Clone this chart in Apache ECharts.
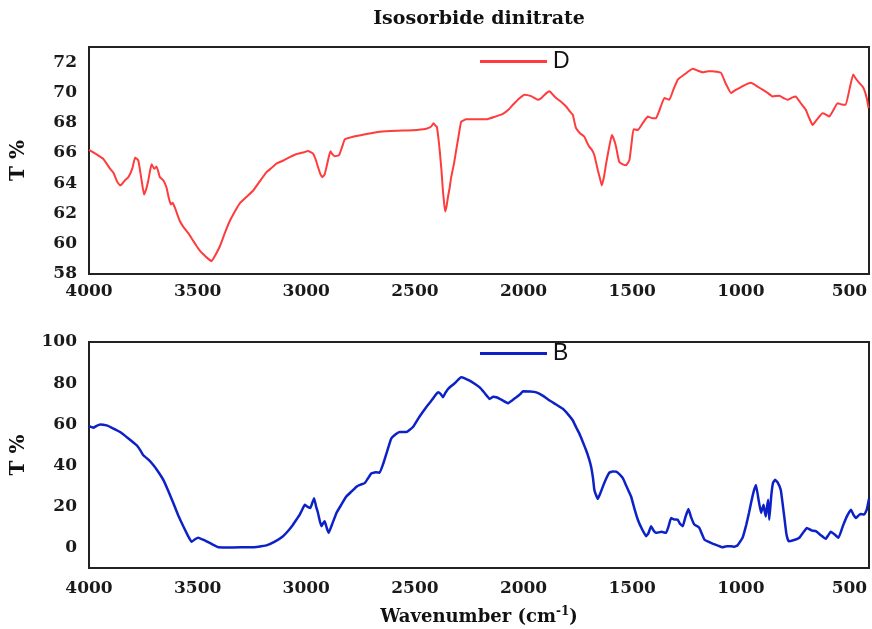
<!DOCTYPE html>
<html>
<head>
<meta charset="utf-8">
<script src="https://cdn.jsdelivr.net/npm/echarts@6/dist/echarts.min.js"></script>
<style>html,body{margin:0;padding:0;background:#fff;}#c{width:872px;height:629px;}</style>
</head>
<body>
<div id="c"></div>
<script>
const titleText = 'Isosorbide dinitrate';
const xTicks = [4000, 3500, 3000, 2500, 2000, 1500, 1000, 500];
const yTicksD = [58, 60, 62, 64, 66, 68, 70, 72];
const yTicksB = [0, 20, 40, 60, 80, 100];

// Sample D: [wavenumber, T%]
const seriesD = [
  [4000,66.2],[3965,65.9],[3934,65.6],[3905,65.0],[3888,64.7],[3870,64.1],[3857,63.85],[3845,64.0],[3834,64.2],[3819,64.4],
  [3800,65.0],[3788,65.7],[3773,65.5],[3758,64.2],[3747,63.25],[3737,63.6],[3727,64.2],[3718,64.9],[3712,65.25],[3700,64.95],
  [3689,65.1],[3680,64.7],[3674,64.4],[3658,64.2],[3643,63.7],[3634,63.1],[3624,62.6],[3615,62.7],[3605,62.4],[3595,62.0],
  [3582,61.5],[3565,61.1],[3543,60.7],[3525,60.3],[3505,59.85],[3490,59.55],[3474,59.3],[3455,59.05],[3436,58.85],[3420,59.2],
  [3397,59.85],[3375,60.7],[3352,61.5],[3330,62.1],[3306,62.67],[3275,63.1],[3245,63.5],[3215,64.1],[3183,64.73],[3160,65.0],
  [3137,65.3],[3105,65.5],[3076,65.73],[3050,65.9],[3010,66.05],[2992,66.13],[2969,65.96],[2955,65.5],[2946,65.07],[2935,64.6],
  [2926,64.4],[2915,64.6],[2907,65.07],[2897,65.7],[2889,66.11],[2879,65.9],[2869,65.78],[2849,65.85],[2835,66.4],[2823,66.89],
  [2785,67.07],[2723,67.25],[2662,67.4],[2585,67.47],[2509,67.5],[2448,67.6],[2425,67.75],[2414,67.96],[2405,67.8],[2399,67.73],
  [2392,67.0],[2386,66.18],[2378,64.9],[2371,63.5],[2365,62.6],[2360,62.13],[2354,62.5],[2348,63.07],[2340,63.7],[2333,64.4],
  [2320,65.3],[2310,66.18],[2298,67.2],[2287,68.07],[2264,68.22],[2220,68.22],[2172,68.22],[2130,68.4],[2095,68.58],[2070,68.85],
  [2049,69.18],[2020,69.6],[1995,69.85],[1965,69.75],[1934,69.51],[1920,69.6],[1911,69.73],[1895,69.95],[1880,70.07],[1865,69.85],
  [1850,69.63],[1825,69.35],[1804,69.07],[1790,68.8],[1773,68.51],[1765,68.0],[1758,67.63],[1740,67.3],[1720,67.07],[1708,66.7],
  [1697,66.4],[1685,66.2],[1674,65.85],[1665,65.3],[1658,64.85],[1648,64.3],[1640,63.85],[1630,64.4],[1620,65.29],[1607,66.3],
  [1594,67.18],[1584,66.9],[1574,66.4],[1566,65.8],[1559,65.4],[1543,65.25],[1528,65.18],[1513,65.51],[1503,66.6],[1494,67.56],
  [1474,67.51],[1450,68.0],[1428,68.4],[1410,68.3],[1390,68.29],[1370,69.0],[1352,69.63],[1329,69.51],[1310,70.2],[1290,70.85],
  [1260,71.18],[1240,71.4],[1222,71.56],[1200,71.45],[1176,71.33],[1150,71.4],[1130,71.4],[1091,71.29],[1070,70.6],[1045,69.96],
  [1025,70.15],[1007,70.29],[980,70.5],[953,70.63],[925,70.4],[900,70.18],[875,69.95],[854,69.73],[823,69.78],[800,69.6],
  [785,69.51],[765,69.65],[747,69.73],[725,69.3],[701,68.85],[685,68.3],[670,67.85],[650,68.2],[624,68.62],[610,68.55],
  [593,68.4],[575,68.8],[555,69.29],[535,69.2],[517,69.18],[500,70.2],[483,71.18],[470,70.9],[455,70.63],[440,70.4],
  [432,70.18],[420,69.6],[412,68.96]
];

// Sample B: [wavenumber, T%]
const seriesB = [
  [4000,58.5],[3995,58.9],[3980,58.3],[3965,59.2],[3949,59.9],[3919,59.4],[3890,58.0],[3857,56.2],[3820,53.2],[3781,49.8],
  [3765,47.5],[3750,44.9],[3725,42.6],[3704,40.1],[3680,36.6],[3658,32.9],[3635,27.5],[3612,21.6],[3590,15.8],[3566,10.3],
  [3545,5.8],[3528,2.75],[3512,4.0],[3497,4.7],[3478,3.9],[3459,3.0],[3430,1.4],[3405,0.1],[3340,0.0],[3260,0.1],
  [3220,0.4],[3183,1.0],[3145,2.8],[3107,5.5],[3085,7.9],[3061,11.1],[3045,13.6],[3030,16.0],[3015,19.2],[3007,20.8],
  [2995,19.9],[2981,19.2],[2972,21.8],[2964,24.0],[2955,20.0],[2946,16.8],[2938,13.0],[2930,10.3],[2922,11.8],[2915,12.7],
  [2906,9.6],[2897,7.1],[2880,11.6],[2861,16.8],[2840,20.6],[2816,24.8],[2790,27.4],[2769,29.6],[2750,30.6],[2731,31.3],
  [2715,33.8],[2700,36.1],[2680,36.6],[2662,36.4],[2645,41.0],[2631,45.7],[2620,49.5],[2609,53.0],[2590,55.0],[2570,56.2],
  [2539,56.2],[2509,58.6],[2480,63.5],[2448,68.3],[2420,72.0],[2394,75.5],[2382,74.8],[2371,73.1],[2360,75.2],[2348,77.1],
  [2318,79.8],[2287,82.8],[2268,82.2],[2248,81.2],[2225,79.7],[2202,77.9],[2180,75.3],[2156,72.3],[2140,73.3],[2125,73.1],
  [2100,71.8],[2072,70.2],[2050,71.8],[2033,73.1],[2015,74.6],[2003,76.0],[1970,75.9],[1941,75.5],[1910,73.8],[1880,71.5],
  [1850,69.6],[1819,67.5],[1795,64.8],[1773,61.8],[1758,58.5],[1743,55.4],[1728,51.6],[1712,47.3],[1700,43.6],[1689,39.3],
  [1680,33.5],[1674,28.0],[1665,25.2],[1658,23.7],[1648,26.0],[1635,29.6],[1620,33.4],[1605,36.4],[1590,37.0],[1574,36.9],
  [1558,35.6],[1543,33.7],[1525,29.5],[1505,24.8],[1490,19.0],[1474,13.5],[1455,9.0],[1436,5.5],[1425,7.0],[1413,10.3],
  [1400,8.0],[1390,7.1],[1365,7.6],[1344,7.1],[1332,10.5],[1321,14.3],[1305,13.6],[1290,13.5],[1280,11.5],[1267,10.3],
  [1255,14.8],[1241,18.7],[1228,14.5],[1214,11.1],[1200,10.3],[1191,9.5],[1180,6.8],[1168,3.9],[1150,2.8],[1130,1.9],
  [1105,0.9],[1084,0.1],[1065,0.6],[1045,0.6],[1030,0.3],[1015,1.0],[992,4.7],[975,11.0],[962,17.0],[953,21.6],
  [940,27.5],[930,30.4],[918,23.0],[907,16.8],[900,19.3],[895,20.8],[890,17.5],[885,15.1],[879,20.0],[874,23.2],
  [869,13.5],[860,25.0],[852,31.4],[842,32.9],[830,31.6],[816,28.0],[800,15.0],[790,6.5],[780,3.0],[755,3.6],
  [731,4.7],[712,7.4],[696,9.5],[675,8.3],[655,7.9],[630,5.8],[609,4.2],[597,6.0],[586,7.6],[568,6.3],
  [550,4.7],[530,10.5],[510,15.5],[493,18.4],[482,16.0],[470,14.3],[450,16.3],[432,16.0],[420,18.5],[410,23.7]
];

const chart = echarts.init(document.getElementById('c'));
const serif = 'DejaVu Serif';
const plain = function (v) { return String(v); };
const labelStyle = { fontFamily: serif, fontWeight: 'bold', fontSize: 17, color: '#1a1a1a', formatter: plain };

const option = {
  animation: false,
  backgroundColor: '#fff',
  title: {
    text: titleText,
    left: 479, top: 10, padding: 0, textAlign: 'center',
    textStyle: { fontFamily: serif, fontWeight: 'bold', fontSize: 19, color: '#111' }
  },
  legend: [
    { data: ['D'], left: 480, top: 50, padding: 0, icon: 'rect', itemWidth: 67, itemHeight: 3, itemGap: 0,
      textStyle: { fontFamily: 'Liberation Sans', fontSize: 23, color: '#111', padding: [0, 0, 0, 1] } },
    { data: ['B'], left: 480, top: 342, padding: 0, icon: 'rect', itemWidth: 67, itemHeight: 3, itemGap: 0,
      textStyle: { fontFamily: 'Liberation Sans', fontSize: 23, color: '#111', padding: [0, 0, 0, 1] } }
  ],
  grid: [
    { left: 89, right: 3, top: 47, height: 227, show: true, borderColor: '#222', borderWidth: 2, backgroundColor: 'transparent' },
    { left: 89, right: 3, top: 342, height: 226, show: true, borderColor: '#222', borderWidth: 2, backgroundColor: 'transparent' }
  ],
  xAxis: [
    { type: 'value', gridIndex: 0, inverse: true, min: 410, max: 4000,
      axisLine: { show: false }, axisTick: { show: false }, splitLine: { show: false },
      axisLabel: Object.assign({ customValues: xTicks, margin: 9 }, labelStyle) },
    { type: 'value', gridIndex: 1, inverse: true, min: 410, max: 4000,
      axisLine: { show: false }, axisTick: { show: false }, splitLine: { show: false },
      axisLabel: Object.assign({ customValues: xTicks, margin: 12 }, labelStyle),
      name: '{a|Wavenumber (cm}{s|-1}{a|)}', nameLocation: 'middle', nameGap: 38,
      nameTextStyle: { rich: {
        a: { fontFamily: serif, fontWeight: 'bold', fontSize: 18, color: '#111' },
        s: { fontFamily: serif, fontWeight: 'bold', fontSize: 12, color: '#111', verticalAlign: 'top', padding: [0, 0, 10, 0] }
      } } }
  ],
  yAxis: [
    { type: 'value', gridIndex: 0, min: 58, max: 73,
      axisLine: { show: false }, axisTick: { show: false }, splitLine: { show: false },
      axisLabel: Object.assign({ customValues: yTicksD, margin: 12 }, labelStyle),
      name: 'T %', nameLocation: 'middle', nameGap: 60, nameRotate: 90,
      nameTextStyle: { fontFamily: serif, fontWeight: 'bold', fontSize: 20, color: '#111' } },
    { type: 'value', gridIndex: 1, min: -10, max: 100,
      axisLine: { show: false }, axisTick: { show: false }, splitLine: { show: false },
      axisLabel: Object.assign({ customValues: yTicksB, margin: 12 }, labelStyle),
      name: 'T %', nameLocation: 'middle', nameGap: 60, nameRotate: 90,
      nameTextStyle: { fontFamily: serif, fontWeight: 'bold', fontSize: 20, color: '#111' } }
  ],
  series: [
    { name: 'D', type: 'line', xAxisIndex: 0, yAxisIndex: 0, data: seriesD, showSymbol: false, symbol: 'none',
      color: '#ff3b3b', lineStyle: { width: 2, color: '#ff3b3b' }, smooth: 0.1 },
    { name: 'B', type: 'line', xAxisIndex: 1, yAxisIndex: 1, data: seriesB, showSymbol: false, symbol: 'none',
      color: '#0d22c6', lineStyle: { width: 2.5, color: '#0d22c6' }, smooth: 0.1 }
  ]
};
chart.setOption(option);
</script>
</body>
</html>
